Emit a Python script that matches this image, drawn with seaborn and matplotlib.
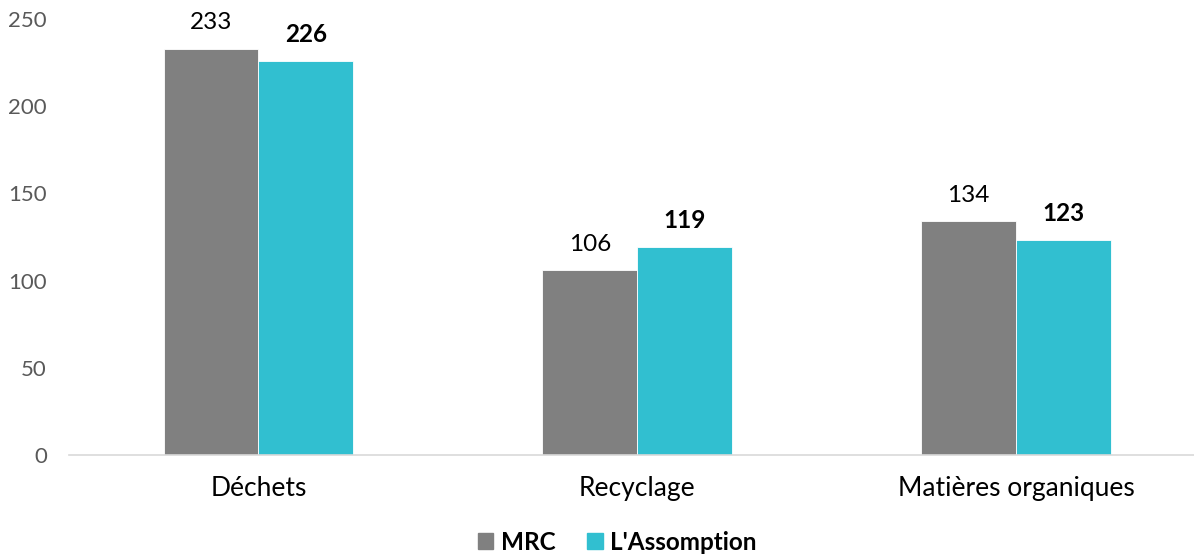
import pandas as pd
import matplotlib.pyplot as plt
import seaborn as sns
from matplotlib.patches import Patch

categories = ['Déchets', 'Recyclage', 'Matières organiques']
mrc = [233, 106, 134]
assomption = [226, 119, 123]
series = ['MRC', "L'Assomption"]
colors = ['#808080', '#31BFD0']

df = pd.DataFrame({
    'cat': categories * 2,
    'val': mrc + assomption,
    'serie': [series[0]] * 3 + [series[1]] * 3,
})

sns.set_style('white')
plt.rcParams['font.family'] = ['Lato', 'DejaVu Sans']
plt.rcParams['text.color'] = 'black'

fig = plt.figure(figsize=(11.94, 5.56), dpi=100)
ax = fig.add_axes([69 / 1194, 101 / 556, 1125 / 1194, 436 / 556])

sns.barplot(data=df, x='cat', y='val', hue='serie', palette=colors,
            width=0.5, saturation=1, ax=ax, legend=False,
            edgecolor='white', linewidth=0.6)

ax.set_xlim(-0.5, 2.47)
ax.set_ylim(0, 250)
ax.set_yticks([0, 50, 100, 150, 200, 250])
ax.set_xlabel('')
ax.set_ylabel('')
for s in ['top', 'right', 'left']:
    ax.spines[s].set_visible(False)
ax.spines['bottom'].set_color('#d9d9d9')
ax.spines['bottom'].set_linewidth(1.2)
ax.tick_params(axis='y', labelsize=16, labelcolor='#595959', length=0, pad=16)
ax.tick_params(axis='x', labelsize=19, labelcolor='#000000', length=0, pad=15)

for i, cont in enumerate(ax.containers):
    ax.bar_label(cont, padding=11, fontsize=17.5, color='black',
                 fontweight='bold' if i == 1 else 'normal', clip_on=False)

handles = [Patch(color=c) for c in colors]
leg = fig.legend(handles, series, loc='center', bbox_to_anchor=(617 / 1194, 1 - 542 / 556),
                 ncol=2, frameon=False, handlelength=0.65, handleheight=0.65,
                 handletextpad=0.3, columnspacing=1.3,
                 prop={'size': 17.5, 'weight': 'bold'}, labelcolor='black')

fig.savefig('out.png', dpi=100)
